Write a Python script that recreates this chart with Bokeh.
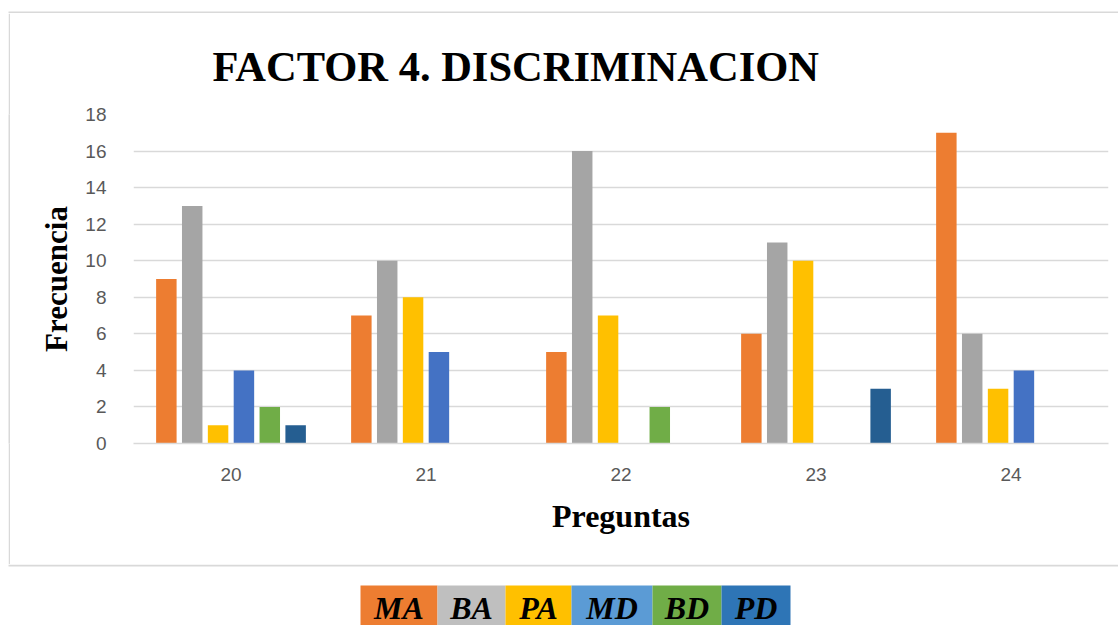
from bokeh.plotting import figure
from bokeh.layouts import column, row
from bokeh.models import (ColumnDataSource, FactorRange, Range1d, FixedTicker, Spacer)
from bokeh.core.properties import value
from bokeh.transform import dodge
from bokeh.embed import file_html
from bokeh.resources import INLINE

# ---- data ----
preguntas = ["20", "21", "22", "23", "24"]
series = ["MA", "BA", "PA", "MD", "BD", "PD"]
MA = [9, 7, 5, 6, 17]
BA = [13, 10, 16, 11, 6]
PA = [1, 8, 7, 10, 3]
MD = [4, 5, 0, 0, 4]
BD = [2, 0, 2, 0, 0]
PD = [1, 0, 0, 3, 0]
y_ticks = [0, 2, 4, 6, 8, 10, 12, 14, 16, 18]

title_text = "FACTOR 4. DISCRIMINACION"
x_title = "Preguntas"
y_title = "Frecuencia"

bar_colors = ["#ED7D31", "#A5A5A5", "#FFC000", "#4472C4", "#70AD47", "#255E91"]
legend_colors = ["#ED7D31", "#BFBFBF", "#FFC000", "#5B9BD5", "#70AD47", "#2E75B6"]
# legend cell edges (page pixels)
legend_edges = [360, 437, 505, 571, 652, 721, 790]

BORDER = "#D9D9D9"
SERIF = "Liberation Serif"
PAGE_W = 1118


def strip_fig(h):
    """A full-width strip whose frame is the whole canvas, in pixel units."""
    f = figure(width=PAGE_W, height=h, output_backend="svg", toolbar_location=None,
               x_axis_type=None, y_axis_type=None, min_border=0, title_location=None,
               x_range=Range1d(0, PAGE_W), y_range=Range1d(0, h),
               background_fill_color="white", border_fill_color="white")
    f.outline_line_color = None
    f.grid.visible = False
    return f


# ---- top border strip ----
top = strip_fig(13)
top.quad(left=[8], right=[PAGE_W], bottom=[0], top=[2], fill_color=BORDER, line_color=None)

# ---- left border line ----
vline = figure(width=2, height=551, output_backend="svg", toolbar_location=None,
               x_axis_type=None, y_axis_type=None, min_border=0, title_location=None,
               background_fill_color=BORDER, border_fill_color=BORDER)
vline.outline_line_color = None
vline.grid.visible = False

# ---- main chart ----
source = ColumnDataSource(dict(q=preguntas, MA=MA, BA=BA, PA=PA, MD=MD, BD=BD, PD=PD))

p = figure(width=1108, height=551, output_backend="svg", toolbar_location=None,
           x_range=FactorRange(factors=preguntas, range_padding=0),
           y_range=Range1d(0, 18),
           min_border_left=123, min_border_right=10,
           min_border_top=101, min_border_bottom=121,
           background_fill_color="white", border_fill_color="white")
p.outline_line_color = None

pitch = 0.1326
bw = 0.105
for i, s in enumerate(series):
    p.vbar(x=dodge("q", (i - 2.5) * pitch, range=p.x_range), top=s, width=bw,
           source=source, fill_color=bar_colors[i], line_color=None)

p.title.text = title_text
p.title.text_font = SERIF
p.title.text_font_style = "bold"
p.title.text_font_size = "42.5px"
p.title.text_color = "black"
p.title.align = "left"
p.title.offset = 79
p.title.standoff = 50

tick_font = "Liberation Sans"
p.yaxis.ticker = FixedTicker(ticks=y_ticks)
p.yaxis.axis_line_color = None
p.yaxis.major_tick_line_color = None
p.yaxis.minor_tick_line_color = None
p.yaxis.major_label_text_font = tick_font
p.yaxis.major_label_text_font_size = "19px"
p.yaxis.major_label_text_color = "#595959"
p.yaxis.major_label_standoff = 21
p.yaxis.axis_label = y_title
p.yaxis.axis_label_text_font = SERIF
p.yaxis.axis_label_text_font_style = "bold"
p.yaxis.axis_label_text_font_size = "31px"
p.yaxis.axis_label_text_color = "black"
p.yaxis.axis_label_standoff = 8

p.xaxis.axis_line_color = BORDER
p.xaxis.axis_line_width = 1.3
p.xaxis.major_tick_line_color = None
p.xaxis.minor_tick_line_color = None
p.xaxis.major_label_text_font = tick_font
p.xaxis.major_label_text_font_size = "19px"
p.xaxis.major_label_text_color = "#595959"
p.xaxis.major_label_standoff = 18
p.xaxis.axis_label = x_title
p.xaxis.axis_label_text_font = SERIF
p.xaxis.axis_label_text_font_style = "bold"
p.xaxis.axis_label_text_font_size = "32px"
p.xaxis.axis_label_text_color = "black"
p.xaxis.axis_label_standoff = 14

p.xgrid.grid_line_color = None
p.ygrid.grid_line_color = BORDER
p.ygrid.grid_line_width = 1.3

# ---- bottom strip: border line + legend ----
bot = strip_fig(61)
bot.quad(left=[8], right=[PAGE_W], bottom=[59], top=[61], fill_color=BORDER, line_color=None)
lsrc = ColumnDataSource(dict(
    name=series,
    left=legend_edges[:-1],
    right=legend_edges[1:],
    mid=[(a + b) / 2 for a, b in zip(legend_edges[:-1], legend_edges[1:])],
    color=legend_colors,
))
bot.quad(left="left", right="right", bottom=0, top=40, fill_color="color",
         line_color=None, source=lsrc)
bot.text(x="mid", y=18, text="name", source=lsrc, text_align="center",
         text_baseline="alphabetic", text_font=value(SERIF),
         text_font_style="bold italic", text_font_size="32px", text_color="black")

layout = column(
    top,
    row(Spacer(width=8), vline, p),
    bot,
)

open("out.html", "w").write(file_html(layout, INLINE))
